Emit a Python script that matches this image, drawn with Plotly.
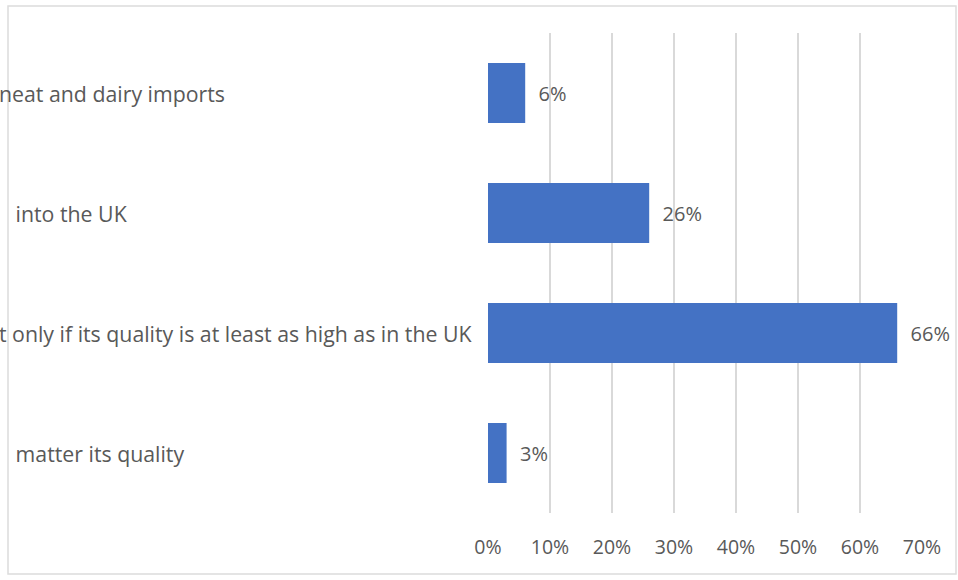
import plotly.graph_objects as go

categories = [
    "neat and dairy imports",
    "\u00a0\u00a0\u00a0into the UK",
    "t only if its quality is at least as high as in the UK",
    "\u00a0\u00a0\u00a0matter its quality",
]
values = [6, 26, 66, 3]
tick_vals = [0, 10, 20, 30, 40, 50, 60, 70]
tick_text = [f"{v}%" for v in tick_vals]

FONT = "Open Sans"
GREY = "#595959"

fig = go.Figure(
    go.Bar(
        x=values,
        y=categories,
        orientation="h",
        marker=dict(color="#4472C4", line=dict(width=0)),
        texttemplate="\u00a0\u00a0%{x}%",
        textposition="outside",
        textfont=dict(family=FONT, size=20, color=GREY),
        cliponaxis=False,
        width=0.5,
    )
)

W, H = 958, 580
L, R, T, B = 488, 36, 33, 67
pw, ph = W - L - R, H - T - B

def px_to_paper_x(px):
    return (px - L) / pw

def px_to_paper_y(py):
    return 1 - (py - T) / ph

fig.add_shape(
    type="rect", xref="paper", yref="paper",
    x0=px_to_paper_x(8), x1=px_to_paper_x(956),
    y0=px_to_paper_y(574), y1=px_to_paper_y(6),
    line=dict(color="#dcdcdc", width=1.5), fillcolor="rgba(0,0,0,0)",
    layer="below",
)

# left-aligned category labels (the original chart's labels are cut at the left edge)
for cat in categories:
    fig.add_annotation(
        x=px_to_paper_x(-3), xref="paper", xanchor="left",
        y=cat, yref="y", yanchor="middle",
        text=cat, showarrow=False,
        font=dict(family=FONT, size=21.3, color=GREY),
    )

fig.update_layout(
    width=W, height=H,
    margin=dict(l=L, r=R, t=T, b=B, autoexpand=False),
    paper_bgcolor="white", plot_bgcolor="white",
    showlegend=False,
    font=dict(family=FONT, color=GREY),
    xaxis=dict(
        range=[0, 70], tickvals=tick_vals, ticktext=tick_text,
        showgrid=True, gridcolor="#d9d9d9", gridwidth=1.5,
        zeroline=False, showline=False,
        tickfont=dict(family=FONT, size=19.5, color=GREY),
        ticklabelstandoff=20, automargin=False, fixedrange=True,
    ),
    yaxis=dict(
        categoryorder="array", categoryarray=categories,
        autorange="reversed",
        showgrid=False, zeroline=False, showline=False,
        showticklabels=False, automargin=False, fixedrange=True,
    ),
)

fig.write_html(
    "out.html",
    config={"displayModeBar": False},
    post_script="document.body.style.margin='0';document.body.style.overflow='hidden';",
)
